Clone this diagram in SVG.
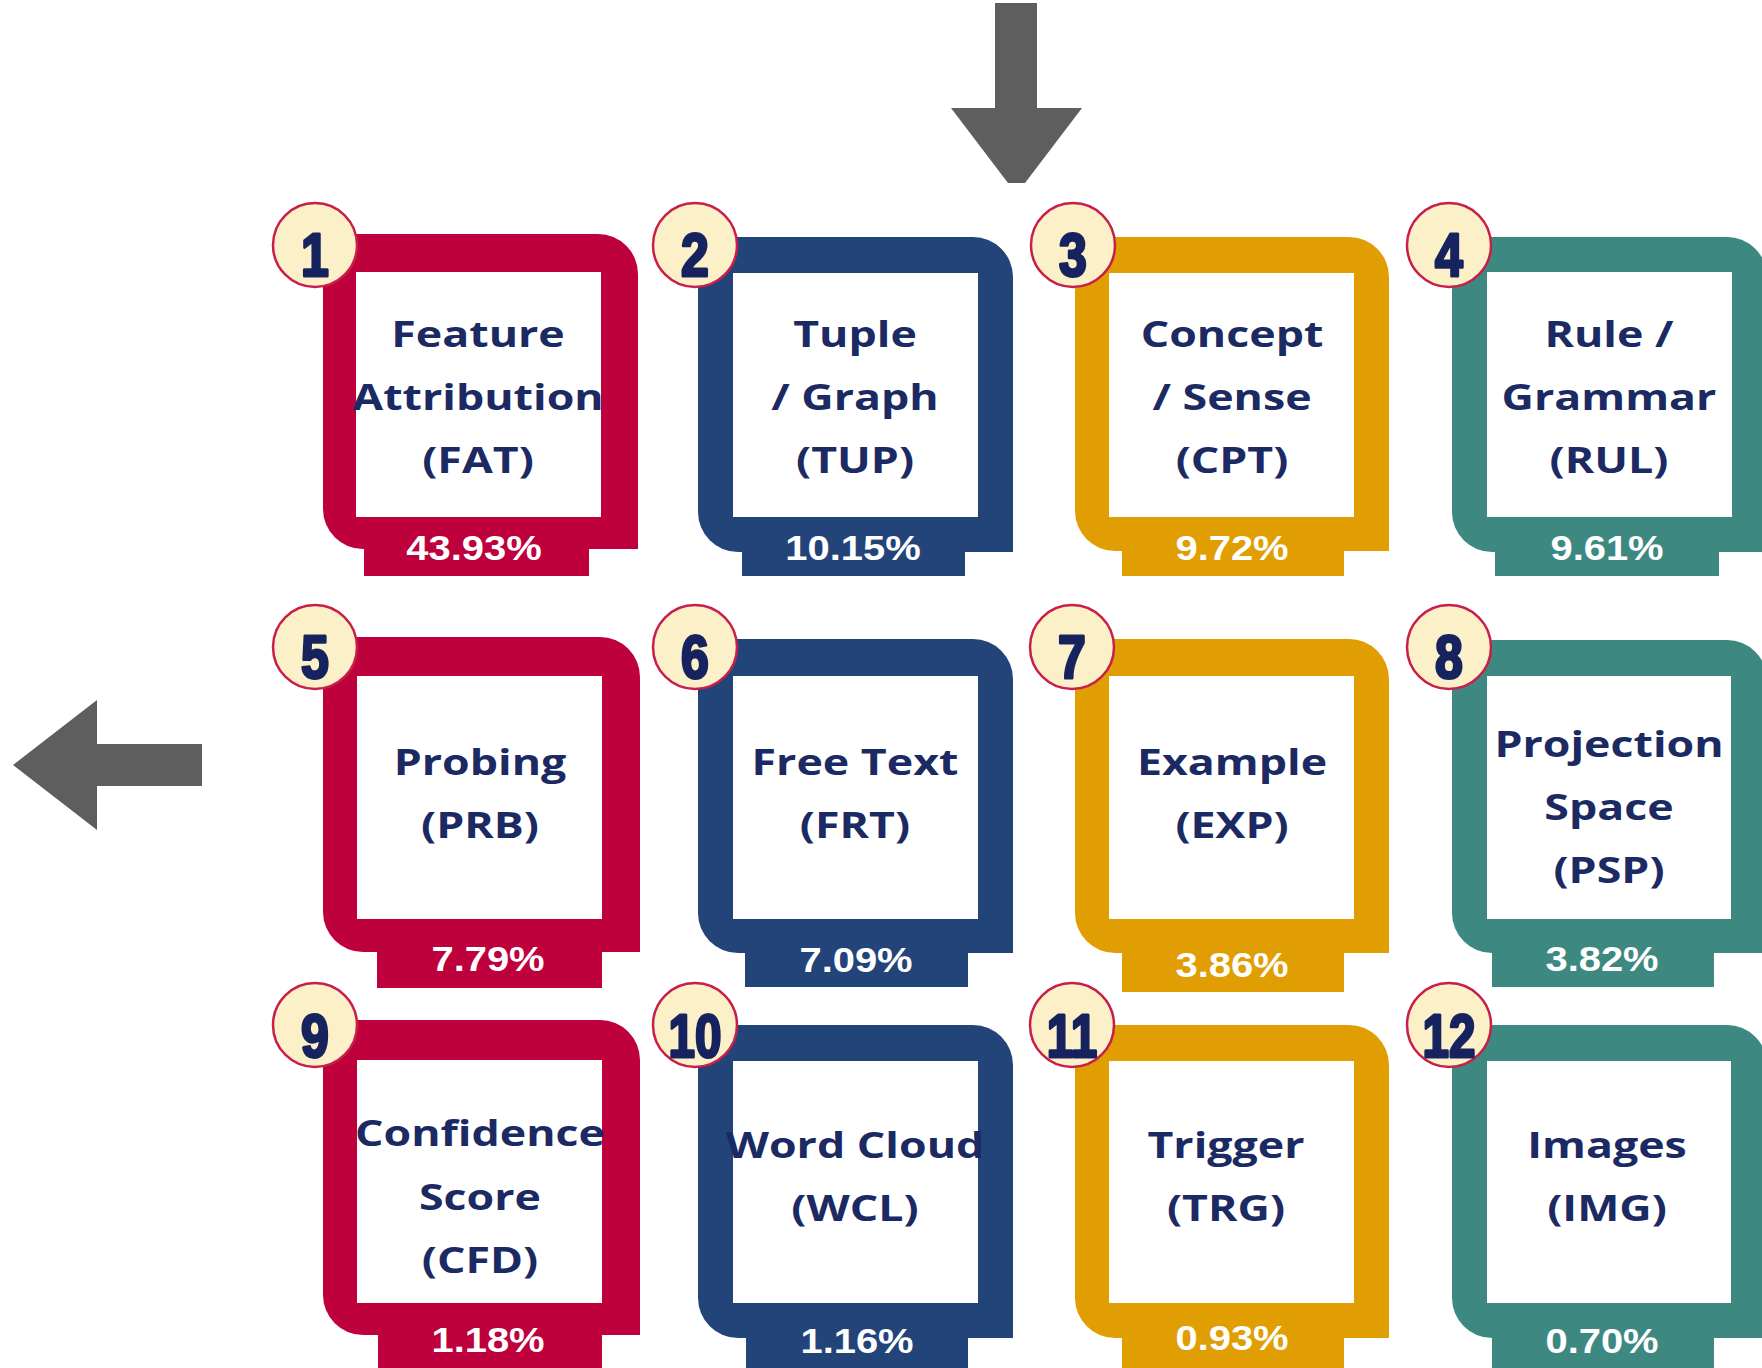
<svg xmlns="http://www.w3.org/2000/svg" width="1762" height="1368" viewBox="0 0 1762 1368">
<style>
.bg{fill:#ffffff}
.red{fill:#BE003C}
.blue{fill:#234479}
.gold{fill:#E09E03}
.teal{fill:#3D8982}
.inner{fill:#ffffff}
.lbl{font-family:"Open Sans","Noto Sans",sans-serif;font-weight:700;font-size:35.5px;fill:#1B2A62;text-anchor:middle}
.pct{font-family:"Liberation Sans",Arial,sans-serif;font-weight:700;font-size:35px;fill:#ffffff;text-anchor:middle}
.badge{fill:#FBF0C8;stroke:#C81E4A;stroke-width:2.5}
.num{font-family:"Liberation Sans",Arial,sans-serif;font-weight:700;font-size:61px;fill:#17235E;stroke:#17235E;stroke-width:3;stroke-linejoin:round;text-anchor:middle}
.arrow{fill:#5E5E5E}
</style>
<rect class="bg" x="0" y="0" width="1762" height="1368"/>
<g id="connectors">
<polygon class="arrow" points="995,3 1037,3 1037,108 1082,108 1025,183 1008,183 951,108 995,108"/>
<polygon class="arrow" points="202,744 97,744 97,700 13,765 97,830 97,786 202,786"/>
</g>
<!-- Row 1 -->
<g id="node1">
<path class="red" d="M323,234 H598 A40,40 0 0 1 638,274 V549 H589 V576 H364 V549 H363 A40,40 0 0 1 323,509 Z"/>
<rect class="inner" x="356" y="272" width="245" height="245"/>
<text class="lbl" transform="translate(478,347) scale(1.26,1)">Feature</text>
<text class="lbl" transform="translate(478,410) scale(1.26,1)">Attribution</text>
<text class="lbl" transform="translate(478,473) scale(1.26,1)">(FAT)</text>
<text class="pct" transform="translate(474,560) scale(1.14,1)">43.93%</text>
<circle class="badge" cx="315" cy="245" r="42"/>
<text class="num" transform="translate(315,276) scale(0.82,1)">1</text>
</g>
<g id="node2">
<path class="blue" d="M698,237 H973 A40,40 0 0 1 1013,277 V552 H965 V576 H742 V552 H738 A40,40 0 0 1 698,512 Z"/>
<rect class="inner" x="733" y="273" width="245" height="244"/>
<text class="lbl" transform="translate(855,347) scale(1.26,1)">Tuple</text>
<text class="lbl" transform="translate(855,410) scale(1.26,1)">/ Graph</text>
<text class="lbl" transform="translate(855,473) scale(1.26,1)">(TUP)</text>
<text class="pct" transform="translate(853,560) scale(1.14,1)">10.15%</text>
<circle class="badge" cx="695" cy="245" r="42"/>
<text class="num" transform="translate(695,276) scale(0.82,1)">2</text>
</g>
<g id="node3">
<path class="gold" d="M1075,237 H1349 A40,40 0 0 1 1389,277 V551 H1344 V576 H1122 V551 H1115 A40,40 0 0 1 1075,511 Z"/>
<rect class="inner" x="1109" y="273" width="245" height="244"/>
<text class="lbl" transform="translate(1232,347) scale(1.26,1)">Concept</text>
<text class="lbl" transform="translate(1232,410) scale(1.26,1)">/ Sense</text>
<text class="lbl" transform="translate(1232,473) scale(1.26,1)">(CPT)</text>
<text class="pct" transform="translate(1232,560) scale(1.14,1)">9.72%</text>
<circle class="badge" cx="1073" cy="245" r="42"/>
<text class="num" transform="translate(1073,276) scale(0.82,1)">3</text>
</g>
<g id="node4">
<path class="teal" d="M1452,237 H1727 A40,40 0 0 1 1767,277 V552 H1719 V576 H1495 V552 H1492 A40,40 0 0 1 1452,512 Z"/>
<rect class="inner" x="1487" y="272" width="245" height="245"/>
<text class="lbl" transform="translate(1609,347) scale(1.26,1)">Rule /</text>
<text class="lbl" transform="translate(1609,410) scale(1.26,1)">Grammar</text>
<text class="lbl" transform="translate(1609,473) scale(1.26,1)">(RUL)</text>
<text class="pct" transform="translate(1607,560) scale(1.14,1)">9.61%</text>
<circle class="badge" cx="1449" cy="245" r="42"/>
<text class="num" transform="translate(1449,276) scale(0.82,1)">4</text>
</g>
<!-- Row 2 -->
<g id="node5">
<path class="red" d="M323,637 H600 A40,40 0 0 1 640,677 V952 H602 V988 H377 V952 H363 A40,40 0 0 1 323,912 Z"/>
<rect class="inner" x="357" y="676" width="245" height="243"/>
<text class="lbl" transform="translate(480,775) scale(1.26,1)">Probing</text>
<text class="lbl" transform="translate(480,838) scale(1.26,1)">(PRB)</text>
<text class="pct" transform="translate(488,971) scale(1.14,1)">7.79%</text>
<circle class="badge" cx="315" cy="647" r="42"/>
<text class="num" transform="translate(315,678) scale(0.82,1)">5</text>
</g>
<g id="node6">
<path class="blue" d="M698,639 H973 A40,40 0 0 1 1013,679 V953 H968 V987 H745 V953 H738 A40,40 0 0 1 698,913 Z"/>
<rect class="inner" x="733" y="676" width="245" height="243"/>
<text class="lbl" transform="translate(855,775) scale(1.26,1)">Free Text</text>
<text class="lbl" transform="translate(855,838) scale(1.26,1)">(FRT)</text>
<text class="pct" transform="translate(856,972) scale(1.14,1)">7.09%</text>
<circle class="badge" cx="695" cy="647" r="42"/>
<text class="num" transform="translate(695,678) scale(0.82,1)">6</text>
</g>
<g id="node7">
<path class="gold" d="M1075,639 H1349 A40,40 0 0 1 1389,679 V953 H1344 V992 H1122 V953 H1115 A40,40 0 0 1 1075,913 Z"/>
<rect class="inner" x="1109" y="676" width="245" height="243"/>
<text class="lbl" transform="translate(1232,775) scale(1.26,1)">Example</text>
<text class="lbl" transform="translate(1232,838) scale(1.26,1)">(EXP)</text>
<text class="pct" transform="translate(1232,977) scale(1.14,1)">3.86%</text>
<circle class="badge" cx="1072" cy="647" r="42"/>
<text class="num" transform="translate(1072,678) scale(0.82,1)">7</text>
</g>
<g id="node8">
<path class="teal" d="M1452,640 H1727 A40,40 0 0 1 1767,680 V953 H1714 V987 H1492 V953 H1492 A40,40 0 0 1 1452,913 Z"/>
<rect class="inner" x="1487" y="676" width="244" height="243"/>
<text class="lbl" transform="translate(1609,757) scale(1.26,1)">Projection</text>
<text class="lbl" transform="translate(1609,820) scale(1.26,1)">Space</text>
<text class="lbl" transform="translate(1609,883) scale(1.26,1)">(PSP)</text>
<text class="pct" transform="translate(1602,971) scale(1.14,1)">3.82%</text>
<circle class="badge" cx="1449" cy="647" r="42"/>
<text class="num" transform="translate(1449,678) scale(0.82,1)">8</text>
</g>
<!-- Row 3 -->
<g id="node9">
<path class="red" d="M323,1020 H600 A40,40 0 0 1 640,1060 V1335 H602 V1380 H378 V1335 H363 A40,40 0 0 1 323,1295 Z"/>
<rect class="inner" x="357" y="1060" width="245" height="243"/>
<text class="lbl" transform="translate(480,1146) scale(1.26,1)">Confidence</text>
<text class="lbl" transform="translate(480,1210) scale(1.26,1)">Score</text>
<text class="lbl" transform="translate(480,1273) scale(1.26,1)">(CFD)</text>
<text class="pct" transform="translate(488,1352) scale(1.14,1)">1.18%</text>
<circle class="badge" cx="315" cy="1025" r="42"/>
<text class="num" transform="translate(315,1057) scale(0.82,1)">9</text>
</g>
<g id="node10">
<path class="blue" d="M698,1025 H973 A40,40 0 0 1 1013,1065 V1338 H968 V1380 H746 V1338 H738 A40,40 0 0 1 698,1298 Z"/>
<rect class="inner" x="733" y="1061" width="245" height="242"/>
<text class="lbl" transform="translate(855,1158) scale(1.26,1)">Word Cloud</text>
<text class="lbl" transform="translate(855,1221) scale(1.26,1)">(WCL)</text>
<text class="pct" transform="translate(857,1353) scale(1.14,1)">1.16%</text>
<circle class="badge" cx="695" cy="1025" r="42"/>
<text class="num" transform="translate(695,1057) scale(0.78,1)">10</text>
</g>
<g id="node11">
<path class="gold" d="M1075,1025 H1349 A40,40 0 0 1 1389,1065 V1338 H1344 V1380 H1122 V1338 H1115 A40,40 0 0 1 1075,1298 Z"/>
<rect class="inner" x="1109" y="1061" width="245" height="242"/>
<text class="lbl" transform="translate(1226,1158) scale(1.26,1)">Trigger</text>
<text class="lbl" transform="translate(1226,1221) scale(1.26,1)">(TRG)</text>
<text class="pct" transform="translate(1232,1350) scale(1.14,1)">0.93%</text>
<circle class="badge" cx="1072" cy="1025" r="42"/>
<text class="num" transform="translate(1072,1057) scale(0.78,1)">11</text>
</g>
<g id="node12">
<path class="teal" d="M1452,1025 H1727 A40,40 0 0 1 1767,1065 V1338 H1714 V1380 H1492 V1338 H1492 A40,40 0 0 1 1452,1298 Z"/>
<rect class="inner" x="1487" y="1061" width="244" height="242"/>
<text class="lbl" transform="translate(1607,1158) scale(1.26,1)">Images</text>
<text class="lbl" transform="translate(1607,1221) scale(1.26,1)">(IMG)</text>
<text class="pct" transform="translate(1602,1353) scale(1.14,1)">0.70%</text>
<circle class="badge" cx="1449" cy="1025" r="42"/>
<text class="num" transform="translate(1449,1057) scale(0.78,1)">12</text>
</g>
</svg>
